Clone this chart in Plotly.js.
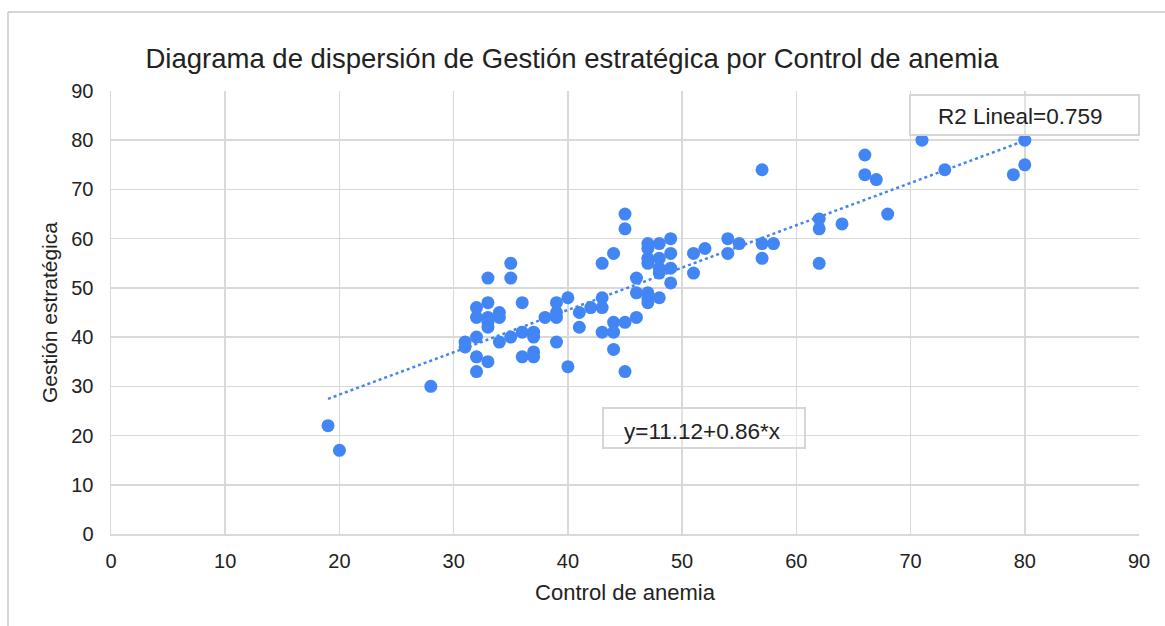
<!DOCTYPE html>
<html>
<head>
<meta charset="utf-8">
<script src="https://cdn.plot.ly/plotly-3.0.1.min.js"></script>
<style>
html,body{margin:0;padding:0;background:#fff;}
#chart{width:1165px;height:626px;}
</style>
</head>
<body>
<div id="chart"></div>
<script>
// Control de anemia (x) vs Gestión estratégica (y)
const controlAnemia = [
  19, 20, 28, 31, 31,
  32, 32, 32, 32, 32,
  33, 33, 33, 33, 33, 33,
  34, 34, 34,
  35, 35, 35,
  36, 36, 36,
  37, 37, 37, 37,
  38, 39, 39, 39, 39,
  40, 40, 41, 41, 42,
  43, 43, 43, 43,
  44, 44, 44, 44,
  45, 45, 45, 45,
  46, 46, 46,
  47, 47, 47, 47, 47, 47, 47,
  48, 48, 48, 48, 48,
  49, 49, 49, 49,
  51, 51, 52, 54, 54, 55,
  57, 57, 57, 58,
  62, 62, 62, 64,
  66, 66, 67, 68, 71, 73, 79, 80, 80
];
const gestionEstrategica = [
  22, 17, 30, 39, 38,
  46, 44, 40, 36, 33,
  52, 47, 44, 43, 42, 35,
  45, 44, 39,
  55, 52, 40,
  47, 41, 36,
  41, 40, 37, 36,
  44, 47, 45, 44, 39,
  48, 34, 45, 42, 46,
  55, 48, 46, 41,
  57, 43, 41, 37.5,
  65, 62, 43, 33,
  52, 49, 44,
  59, 58, 56, 55, 49, 48, 47,
  59, 56, 54, 53, 48,
  60, 57, 54, 51,
  57, 53, 58, 60, 57, 59,
  74, 59, 56, 59,
  64, 62, 55, 63,
  77, 73, 72, 65, 80, 74, 73, 80, 75
];
const fitIntercept = 11.12;
const fitSlope = 0.86;
const fitX = [19, 80];
const fitY = fitX.map(v => fitIntercept + fitSlope * v);
const tickVals = [0, 10, 20, 30, 40, 50, 60, 70, 80, 90];

const W = 1165, H = 626;
const mL = 111, mR = 26, mT = 91, mB = 92;
const pw = W - mL - mR, ph = H - mT - mB;
const px = p => (p - mL) / pw;
const py = p => (H - mB - p) / ph;
const FONT = 'Liberation Sans, Arial, sans-serif';

const traces = [
  {
    x: fitX, y: fitY, type: 'scatter', mode: 'lines',
    line: {color: '#4285F4', width: 2.5, dash: 'dot'},
    hoverinfo: 'skip', showlegend: false
  },
  {
    x: controlAnemia, y: gestionEstrategica, type: 'scatter', mode: 'markers',
    marker: {color: '#4285F4', size: 13, line: {width: 0}},
    showlegend: false
  }
];

const axisCommon = {
  range: [0, 90], tickvals: tickVals, showgrid: true, gridcolor: '#d9d9d9', gridwidth: 1.5,
  zeroline: false, showline: true, linecolor: '#d9d9d9', linewidth: 1.5,
  tickfont: {family: FONT, size: 20, color: '#222'},
  ticks: '', fixedrange: true
};

const layout = {
  width: W, height: H,
  margin: {l: mL, r: mR, t: mT, b: mB},
  paper_bgcolor: '#fff', plot_bgcolor: '#fff',
  title: {
    text: 'Diagrama de dispersión de Gestión estratégica por Control de anemia',
    font: {family: FONT, size: 27.5, color: '#222'},
    x: (572) / W, xanchor: 'center', y: 1 - 58 / H, yanchor: 'middle'
  },
  xaxis: Object.assign({}, axisCommon, {
    ticklabelstandoff: 8,
    title: {text: 'Control de anemia', font: {family: FONT, size: 22, color: '#222'}, standoff: 14}
  }),
  yaxis: Object.assign({}, axisCommon, {
    ticklabelstandoff: 12,
    title: {text: 'Gestión estratégica', font: {family: FONT, size: 21, color: '#222'}, standoff: 8}
  }),
  shapes: [
    {type: 'line', xref: 'paper', yref: 'paper', x0: px(8), x1: px(8), y0: py(12), y1: py(640), line: {color: '#c8c8c8', width: 1.5}},
    {type: 'line', xref: 'paper', yref: 'paper', x0: px(8), x1: px(1170), y0: py(12), y1: py(12), line: {color: '#c8c8c8', width: 1.5}},
    {type: 'rect', xref: 'paper', yref: 'paper', x0: px(910), x1: px(1139), y0: py(135), y1: py(95), line: {color: '#d6d6d6', width: 2}, fillcolor: 'rgba(255,255,255,0.3)'},
    {type: 'rect', xref: 'paper', yref: 'paper', x0: px(603), x1: px(805), y0: py(448), y1: py(408), line: {color: '#d6d6d6', width: 2}, fillcolor: 'rgba(255,255,255,0.3)'}
  ],
  annotations: [
    {text: 'R2 Lineal=0.759', xref: 'paper', yref: 'paper', x: px(1020), y: py(116), xanchor: 'center', yanchor: 'middle', showarrow: false,
     font: {family: FONT, size: 22.5, color: '#222'}},
    {text: 'y=11.12+0.86*x', xref: 'paper', yref: 'paper', x: px(702), y: py(431), xanchor: 'center', yanchor: 'middle', showarrow: false,
     font: {family: FONT, size: 22.5, color: '#222'}}
  ]
};

Plotly.newPlot('chart', traces, layout, {displayModeBar: false, staticPlot: true});
</script>
</body>
</html>
